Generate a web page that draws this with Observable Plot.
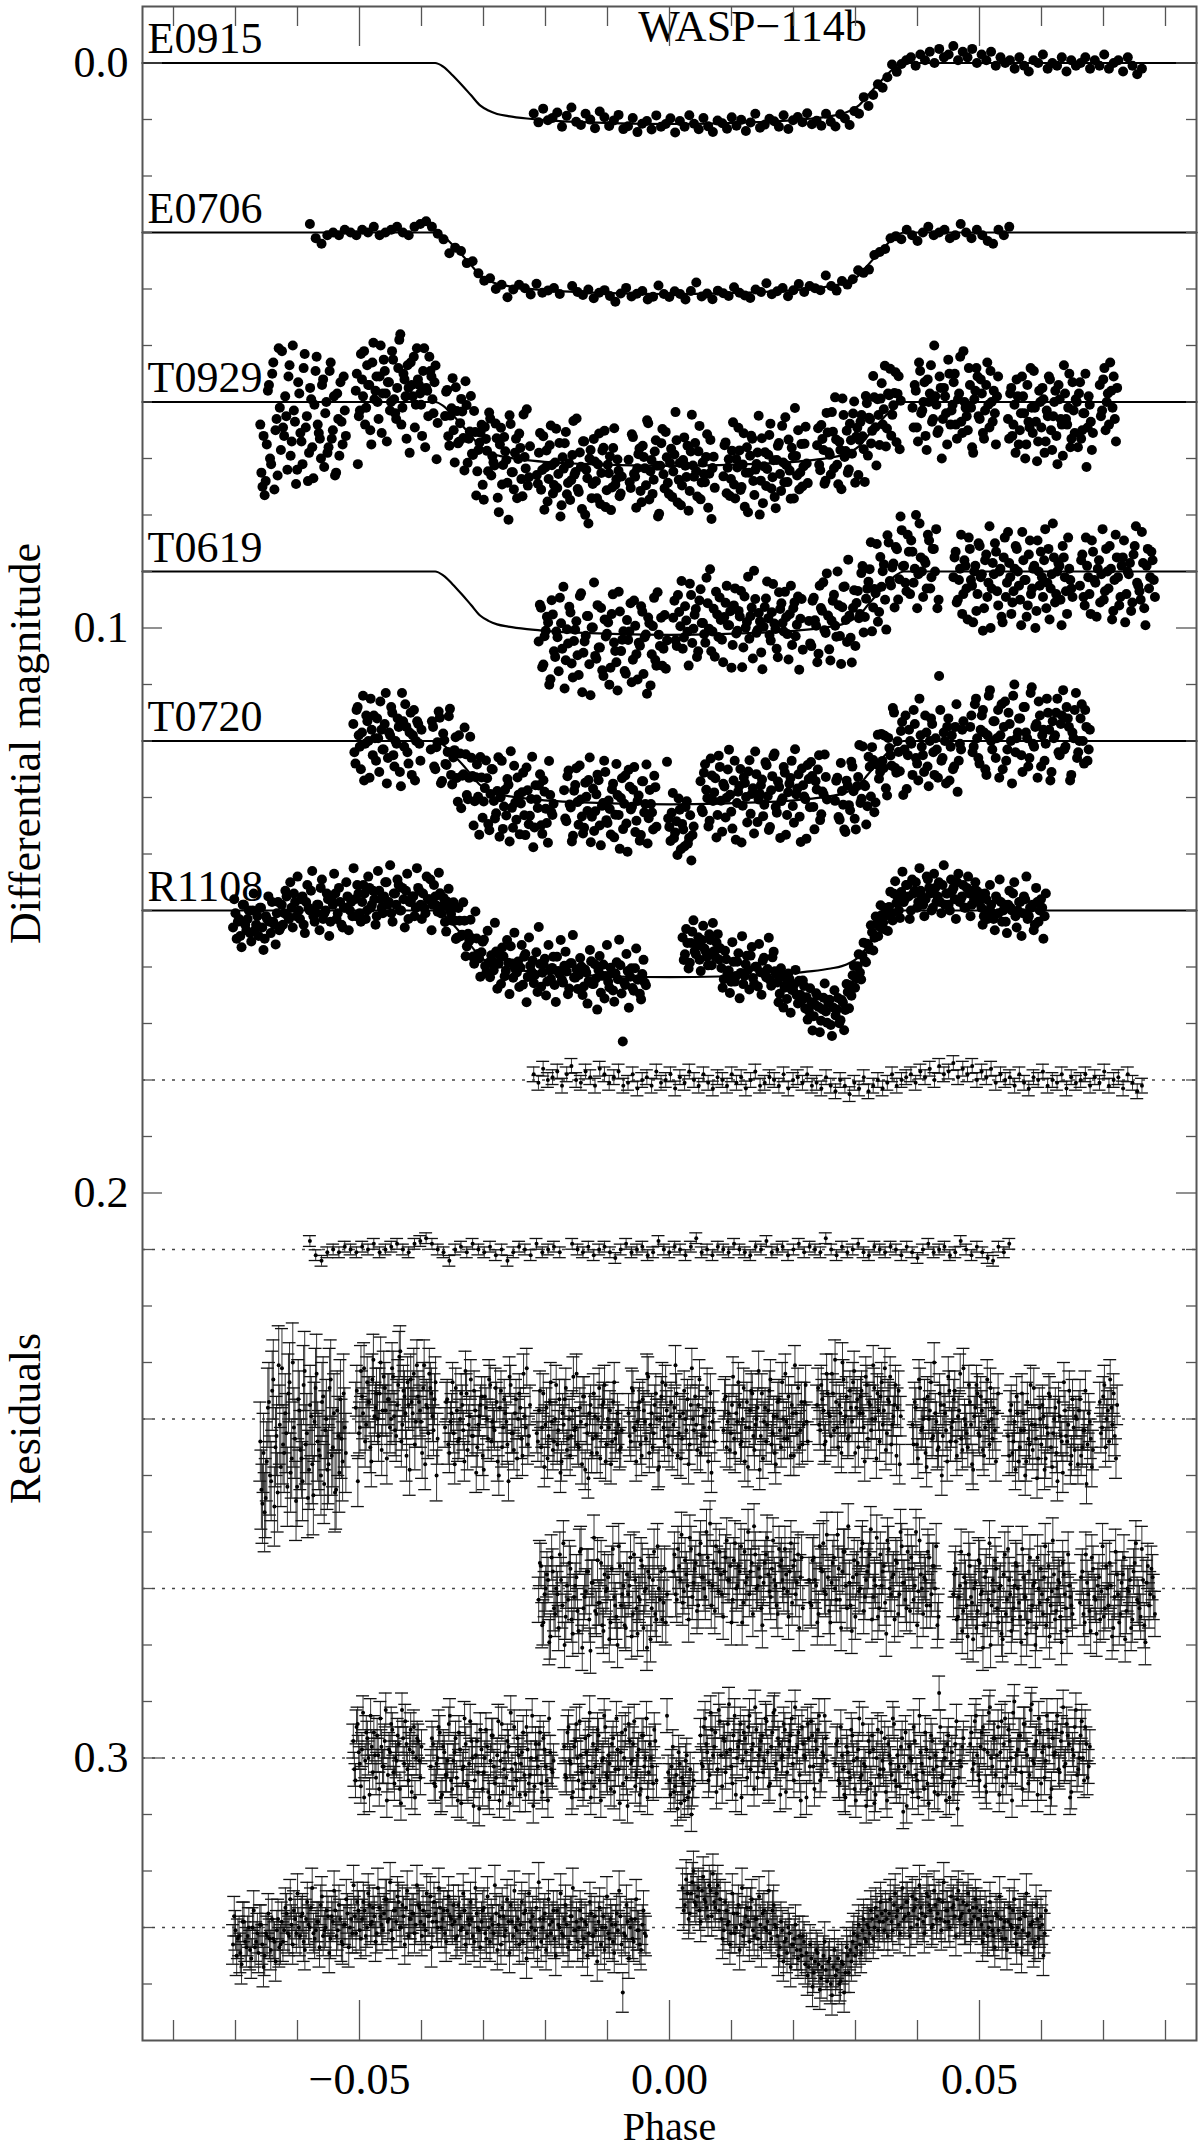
<!DOCTYPE html>
<html>
<head>
<meta charset="utf-8">
<script src="https://cdn.jsdelivr.net/npm/d3@7"></script>
<script src="https://cdn.jsdelivr.net/npm/@observablehq/plot@0.6"></script>
<style>
  html, body { margin: 0; padding: 0; background: white; }
  #chart svg text { font-family: 'Liberation Serif', 'Times New Roman', serif; }
</style>
</head>
<body>
<div id="chart"></div>
<script>
// ---------------- data ----------------
const title = "WASP−114b";
const phaseDomain = [-0.085, 0.085];
const magDomain = [-0.01, 0.35];
const unit = 0.0005; // residual values below are in units of 0.5 mmag

// transit model shape (fraction of depth)
const modelPhase = [-0.085, -0.0378, -0.0365, -0.035, -0.0335, -0.032, -0.0305, -0.0292, -0.0278, -0.026, -0.023, -0.019, -0.014, -0.008, 0,
                    0.008, 0.014, 0.019, 0.023, 0.026, 0.0278, 0.0292, 0.0305, 0.032, 0.0335, 0.035, 0.0365, 0.0378, 0.085];
const modelShape = [0, 0, 0.06, 0.2, 0.36, 0.53, 0.7, 0.78, 0.835, 0.87, 0.91, 0.945, 0.97, 0.99, 1,
                    0.99, 0.97, 0.945, 0.91, 0.87, 0.835, 0.78, 0.7, 0.53, 0.36, 0.2, 0.06, 0, 0];

const names = ["E0915", "E0706", "T0929", "T0619", "T0720", "R1108"];
const baselines = [0.00, 0.03, 0.06, 0.09, 0.12, 0.15];
const depths = [0.0108, 0.0109, 0.0113, 0.0112, 0.0112, 0.0118];
const residLevels = [0.18, 0.21, 0.24, 0.27, 0.30, 0.33];

// E0915
const segE0915 = [[-0.0219, 0.0762]];
const errE0915 = [2.6];
const resE0915 = [[
  -2,1,-4,0,-1,-3,2,-2,-5,0,1,-3,-1,2,-4,-2,1,-1,-3,2,
  1,-2,3,0,-1,2,-3,1,0,-2,3,-1,1,-3,0,2,-2,1,3,-1,
  0,2,-2,1,-1,3,0,-3,2,1,-1,0,2,-2,3,0,-1,1,-2,2,
  1,3,-1,2,4,0,2,5,1,3,-1,4,2,0,3,1,-2,2,0,-1,
  -2,1,-3,-1,-4,0,-5,-2,-3,-6,-1,-4,-2,-5,0,-3,-1,-4,1,-2,
  0,-1,2,-2,1,3,-1,0,-3,2,0,1,-2,3,-1,1,0,-2,2,-1,
  1,-3,2,0,-1,3,-2,1,4,2]];
const resE0915b = null;

// E0706
const segE0706 = [[-0.058, -0.0177], [-0.0157, 0.0548]];
const errE0706 = [1.9, 1.9];
const resE0706 = [
  [-3,2,4,1,0,1,-1,0,1,-1,0,-2,1,0,-1,-2,0,1,-2,-3,-4,-2,0,1,4,0,-1,1,-2,0,1,-1,2,0,4,1,-1,0,2,-2,1,0,-1,1],
  [-2,0,1,-1,2,0,-1,1,3,0,-2,1,0,-1,2,1,-3,0,1,-1,0,2,-1,-4,1,0,2,-1,0,1,-2,0,1,2,-1,0,-3,1,0,-1,
   2,0,-2,1,-1,0,1,-4,0,2,-1,1,0,-2,1,2,-1,0,1,-1,0,2,-1,1,3,0,-2,1,0,-1,2,1,-3,0,2,-1,1,3,4,-1,1,-2]];
const resE0706b = null;

// T0929 (two interleaved runs of exposures per segment)
const segT0929 = [[-0.066,-0.0522],[-0.0506,-0.0374],[-0.0362,-0.0225],[-0.0214,-0.0077],[-0.0066,0.0073],
                  [0.0087,0.0223],[0.0238,0.0373],[0.0392,0.053],[0.0546,0.0683],[0.0694,0.0722]];
const errT0929 = [14, 9, 7, 7, 7, 7, 7, 7, 7, 7];
const resT0929 = [
  [8,30,33,15,-6,22,-14,10,26,2,-18,12,5,-9,19,-20,7,24,-3,14,-12,9,28,-5,16,1,-16,11,20,-8,4,18,-11,13,-2,25,6,-7,15,3],
  [-4,22,3,-8,-18,2,-6,10,-14,-1,-9,6,-20,-3,-11,14,-7,0,-15,4,-5,-22,8,-10,-2,-13,18,-6,-16,1,-8,-3,12,-19,-5,5,-11,-1,-7,20],
  [3,-7,12,-2,5,-11,8,0,-5,15,-9,2,-14,6,-3,10,-1,-8,18,-4,7,-12,1,4,-6,20,-10,3,-2,9,-15,5,11,-7,0,-4,13,-1,-18,6],
  [5,-3,10,-9,2,14,-6,1,8,-12,4,19,-2,-7,11,0,6,-15,3,9,-4,16,-8,2,21,-5,7,-1,12,-11,3,-6,15,0,-3,8,-13,5,2,10],
  [-2,8,-10,4,1,-6,13,-3,7,-15,2,10,-5,0,17,-8,3,-12,6,-1,11,-4,-9,5,14,-2,0,-7,9,-18,4,2,-5,12,-1,6,-11,3,19,-3],
  [4,-8,1,11,-5,7,-2,-13,9,0,15,-6,3,-10,6,2,-4,18,-9,1,8,-3,-14,5,12,-1,-7,10,0,-16,7,3,-5,13,-2,-11,4,9,-6,1],
  [-5,2,-12,-3,8,-9,-1,-16,4,-6,10,-2,-20,1,-8,6,-4,-13,12,-7,-2,-10,3,-15,7,-5,0,-11,14,-3,-8,2,-18,5,-6,9,-1,-12,-4,16],
  [2,-6,9,-14,4,0,12,-8,-3,7,-20,1,10,-5,6,-2,15,-10,3,-7,8,-1,-16,11,0,5,-12,2,18,-4,-9,6,-3,13,-6,1,-11,7,4,-2],
  [6,-3,12,1,-8,15,4,-2,20,-6,9,2,-11,7,14,0,-5,18,3,-9,10,5,-4,22,-1,8,-13,6,2,16,-7,11,0,-3,13,4,-10,9,1,17],
  [-6,3,-12,0,8,-4,-9,14]];
const resT0929b = [
  [25,12,28,-4,20,-10,31,6,-19,17,9,-2,24,-13,14,3,29,-7,11,22,-17,5,18,-1,27,-11,8,13,-6,23,0,16,-14,10,26,-3,19,7,-9,12],
  [-10,5,-17,-2,8,-13,-6,15,-21,-4,0,-9,11,-15,-3,-7,3,-18,-1,6,-12,-24,2,-8,13,-5,-14,-2,9,-19,-6,1,-11,16,-4,-16,-9,4,-13,7],
  [-6,9,1,-13,16,-3,7,-9,4,-17,11,-1,6,-10,19,2,-5,13,-8,0,-14,8,3,-11,15,-4,10,-7,1,22,-12,5,-2,14,-9,7,-16,3,9,-5],
  [8,-10,3,17,-4,6,-13,11,0,9,-7,15,2,-11,7,13,-3,4,-16,10,1,-8,18,5,-2,12,-9,6,0,14,-5,-12,9,3,16,-6,7,-2,11,4],
  [6,-11,3,15,-4,9,-7,1,-16,12,-2,5,-9,18,0,-13,8,-3,10,-6,2,-19,13,-1,7,-10,4,16,-5,0,-8,11,-14,6,3,-3,15,-9,1,8],
  [-7,10,-2,5,-15,12,1,-5,8,-11,3,17,-3,-9,11,0,-17,6,14,-4,2,-10,9,-1,16,-6,4,-13,7,1,-8,13,-2,-19,5,10,-6,2,-12,8],
  [-11,4,-7,9,-16,-2,6,-9,-21,3,-5,12,-14,-1,7,-10,1,-17,-4,10,-8,-2,15,-12,-6,4,-19,0,-9,8,-13,-3,11,-7,-15,2,-5,13,-10,-1],
  [9,-4,14,-11,3,-7,17,0,-13,6,-2,11,-9,20,-5,4,-15,8,1,-10,13,-3,7,-18,2,10,-6,16,-1,-12,5,-8,11,3,-14,9,0,-4,15,-9],
  [13,-5,8,18,-2,10,-9,4,15,7,-12,11,2,21,-4,9,-1,14,5,-8,17,0,12,-6,6,19,-3,8,-10,13,3,-1,16,-7,10,4,23,-2,7,11],
  [5,-8,10,-3,-14,2,6,-5]];

// T0619
const segT0619 = [[-0.0211,-0.0004],[0.0006,0.0215],[0.0225,0.0434],[0.0458,0.065],[0.0662,0.0783]];
const errT0619 = [8, 8, 8, 8, 8];
const resT0619 = [
  [4,-8,12,0,-3,17,-6,9,2,-12,6,20,-1,-9,11,3,-4,15,-14,7,1,-6,22,-2,8,-10,5,13,-5,0,18,-7,3,10,-15,6,-1,14,2,-11,9,-3,16,4,-8,1,21,-4,7,-13,11,0,-6,5,12],
  [-6,2,-14,-3,5,-10,-1,-18,3,-7,8,-12,-4,0,-20,-2,6,-9,-15,1,-5,10,-11,-3,-8,4,-16,-1,-6,12,-13,-4,2,-9,-22,0,-7,7,-2,-12,-5,3,-17,-1,9,-8,-3,-14,1,-6,5,-10,-2,14,-11],
  [-3,6,-11,-1,9,-7,-16,2,-4,12,-9,0,-19,4,-6,-13,7,-2,15,-10,-5,1,-14,8,-3,-8,-21,3,-1,10,-12,-6,5,-17,0,-4,11,-9,2,-15,-2,7,-7,-11,4,-20,1,-5,9,-3,-13,6,-8,0,13],
  [2,-7,10,-1,15,-4,6,-12,3,18,-2,8,-9,1,13,-6,4,20,-3,-10,7,0,16,-5,9,-14,2,11,-1,-8,5,19,-4,3,12,-11,6,-2,14,0,-7,9,-15,4,17,1,-5,8,-3,10,-9,2,15,-1,6],
  [5,-6,12,-2,8,-11,3,16,-4,1,10,-8,6,-1,14,-13,2,9,-5,18,0,-3,11,-9,4,7,-14,13,-2,6,-7,3]];
const resT0619b = [
  [-9,13,2,-5,19,-11,7,0,14,-3,-16,10,4,-7,16,-1,8,-13,21,3,-6,11,-2,-18,9,5,-9,15,1,-4,12,-14,6,20,-8,2,13,-5,-1,17,-12,7,3,-10,14,0,-6,18,-3,9,-15,4,11,-7,2],
  [-12,4,-8,-19,1,-5,11,-14,-2,-9,6,-16,-4,3,-11,-23,-1,8,-7,-13,2,-6,-17,-3,12,-10,0,-8,-15,5,-2,-20,-6,9,-12,-1,-4,13,-9,-18,1,-7,-3,6,-14,-10,0,-5,10,-16,-8,2,-12,-4,7],
  [5,-10,-3,12,-15,-6,1,-19,8,-2,-11,4,-7,14,-13,-1,-22,6,-4,10,-9,0,-16,3,-6,-12,11,-3,-18,7,-1,-8,16,-14,2,-5,-10,9,-20,-2,4,-13,8,-7,-1,13,-17,0,-4,6,-11,2,-8,-15,10],
  [-5,11,3,-13,8,-2,17,-8,5,0,14,-10,2,21,-4,9,-16,6,1,-7,12,-1,18,-12,4,-3,15,7,-9,0,10,-14,3,16,-6,8,-1,20,-11,5,2,-4,13,-8,6,-17,11,0,-2,19,-5,7,-12,3,9],
  [-4,9,-12,2,15,-7,4,-1,11,-15,7,0,-9,17,3,-5,12,-2,-11,8,1,14,-6,-16,5,10,-3,19,-8,2,-4,9]];

// T0720
const segT0720 = [[-0.051,-0.040],[-0.0385,-0.0187],[-0.017,-0.0021],[-0.0004,0.0039],[0.005,0.0254],[0.0267,0.0474],[0.0485,0.0678]];
const errT0720 = [6, 6, 6, 6, 6, 6, 6];
const resT0720 = [
  [-6,8,-12,2,-3,14,-9,0,-15,5,-1,-8,11,-4,3,-17,6,-2,-10,9,1,-5,16,-7,-13,4,-3,12,-11,0,-6,7],
  [3,-5,10,0,-9,13,-2,6,-12,8,1,-7,15,-3,4,-14,9,2,-6,17,-1,5,-10,11,0,-4,14,-8,3,7,-13,1,12,-2,-6,16,4,-11,8,-1,2,-9,13,-3,6,-15,10,0,-5,9,-7,3,15,-2,5],
  [-4,7,-11,2,12,-6,0,-13,5,9,-2,-8,14,-5,3,-10,8,1,-15,6,-1,11,-7,4,-3,16,-9,0,7,-12,2,-5,10,-1,13,-8,3,-14,5,0,9,-6],
  [-15,8,3,12,6,-2,16,9,1,14,4,11],
  [-8,3,-14,-2,6,-10,-4,12,-17,-1,-7,5,-12,-3,9,-15,0,-6,14,-9,-2,-11,4,-5,-18,7,-3,-8,1,-13,10,-4,-16,2,-7,13,-1,-10,5,-6,-14,8,-2,-9,15,-5,0,-12,3,-8,11,-3,-15,6,-1,-7],
  [2,-6,9,-1,13,-4,5,-10,1,15,-3,7,-12,3,11,-2,-8,16,0,6,-9,4,12,-5,2,-14,8,-1,10,-7,3,17,-4,1,-11,6,14,-2,5,-9,9,0,-6,12,3,-23,7,-3,15,-8,2,10,-5,18,1,-4],
  [-5,4,-13,-1,8,-9,-3,12,-16,0,-7,6,-11,-2,10,-14,3,-6,15,-20,-1,-8,5,-12,-3,9,-17,1,-5,13,-9,-2,7,-15,-4,11,-1,-10,4,-6,-18,2,-8,14,-3,-11,6,0,-13,8,-5,3]];
const resT0720b = [
  [4,-11,-2,10,-16,1,-7,13,-4,-9,7,-1,-14,3,-6,15,-3,-12,5,0,-8,11,-17,2,-5,8,-10,-2,14,-7,1,-4],
  [-7,9,2,-11,14,-4,6,1,-15,11,-2,7,-9,16,3,-5,10,-13,0,8,-6,18,-3,5,-10,12,1,-8,9,-1,15,-12,4,7,-4,-16,11,2,-7,13,-2,6,-11,9,0,17,-5,3,-9,12,-3,8,-14,4,1],
  [6,-9,1,14,-4,-12,8,-1,11,-7,3,-16,5,10,-3,-8,15,0,-11,7,2,-5,12,-14,4,-2,9,-10,17,-6,1,-13,6,-3,11,-8,0,14,-5,3,-10,8],
  [5,13,-4,10,18,2,7,15,-1,12,20,8],
  [2,-11,-5,8,-16,-1,-9,4,-13,10,-6,-2,-19,3,-8,13,-4,-12,1,-7,7,-15,-3,11,-10,-1,-6,5,-14,-2,9,-9,-17,4,-5,0,-12,12,-3,-8,2,-18,-4,6,-11,-1,14,-7,-13,3,-6,-10,8,-2,-15,1],
  [-5,8,-11,4,14,-2,7,-8,11,0,-14,6,2,17,-6,9,-3,13,-10,4,1,-7,15,-1,6,-12,10,3,-4,19,-9,5,0,12,-6,8,-15,2,11,-3,16,-8,4,-1,13,-11,6,0,-5,14,-2,9,-13,7,3,-7],
  [-9,2,-15,6,-4,-11,10,-2,-18,3,-7,-1,13,-13,-5,7,-10,0,-16,4,-3,-8,11,-12,-1,6,-19,2,-6,-14,9,-4,1,-10,14,-7,-2,-15,5,-9,3,-12,-5,12,-1,-17,4,-8,0,-11,7,-4]];

// R1108
const segR1108 = [[-0.0704,-0.0038],[0.0021,0.0607]];
const errR1108 = [7, 7];
const resR1108 = [
  [6,1,4,9,-2,5,3,8,0,7,2,-1,6,10,3,4,-3,5,1,7,
   -2,1,-5,3,-1,-6,2,0,-4,5,-3,-1,-7,2,1,-2,-8,3,0,-4,4,-2,-6,1,-3,6,-1,-5,0,2,-4,-9,1,
   -3,-6,0,-8,-2,-4,2,-7,-1,-5,-10,-3,1,-6,-2,-9,0,-4,-7,3,-3,-5,-1,-8,-2,-6,1,-4,-11,-2,-5,0,-7,-3,2,-6,-4,-1,
   -2,3,-4,0,-6,2,-1,-3,5,-5,1,-2,-7,4,0,-3,2,-5,-1,6,-4,1,-2,-8,3,0,-3,-1,5,-6,2,-2,-4,1,7,-3,0,-5,3,-1,-2,4,-6,0,2,-3,-1,5,-4,1,-2,
   0,-3,4,-1,2,-5,3,1,-2,6,-4,0,2,-3,5,-1,1,-4,23,3,-2,0,4,-3,1,6,-1,2],
  [-14,-8,-12,-5,-16,-9,-11,-6,-13,-10,-7,-15,-4,-9,-12,-6,
   -3,1,-6,-2,2,-5,0,-8,-1,3,-4,-2,-7,1,-3,4,-1,-5,0,-2,2,-6,-1,
   3,7,1,5,9,2,6,4,8,3,10,5,
   9,14,11,16,8,13,18,10,15,12,20,14,17,11,19,13,16,10,
   8,5,10,3,6,1,4,-1,2,-3,0,-4,-2,-5,1,-3,
   -5,-2,-8,-4,-1,-7,-3,-9,-5,0,-6,-10,-3,-7,-2,-4,-11,-6,-1,-8,-5,-3,-9,-2,-6,0,-7,-4,-10,-3,-5,-1,-8,-6,-2,-4,-7,-3,
   -1,2,-4,0,-2,3,-5,1,-3,0,4,-2,-1,-6,2,0,-3,1,-4,3,-1,-2,5,-3,0,-1,2]];
const resR1108b = [
  [-4,10,3,13,-2,7,0,11,-6,5,9,-1,14,2,-5,8,4,12,-3,6,
   5,-7,2,-10,6,-3,-12,3,-5,8,-9,0,-14,4,-2,7,-11,1,-6,9,-4,-13,3,-8,5,-1,-10,7,-3,-15,2,-6,4,
   -9,3,-12,-1,-7,5,-14,-4,1,-10,-2,-16,4,-6,-11,0,-8,6,-13,-3,-5,2,-15,-7,3,-1,-12,-4,7,-9,-2,-14,0,-6,5,-11,-3,-8,
   4,-8,1,-12,6,-3,-9,3,-14,0,7,-6,2,-11,5,-1,-15,8,-4,-7,3,-10,9,-2,-13,1,6,-9,-5,11,-12,0,4,-7,-16,5,-3,8,-10,2,-6,10,-1,-12,3,-8,7,-4,-14,1,5,
   -6,7,-2,10,-9,3,-4,12,-7,0,8,-11,4,-1,9,-5,-13,6,2,-8,11,-3,5,-10,1,8,-6,3],
  [-6,-17,-3,-12,-20,-8,-14,-2,-18,-9,-4,-13,-19,-7,-15,-10,
   4,-9,-1,6,-12,2,-5,8,-14,0,-7,5,-10,3,-3,-11,7,-6,1,-13,4,-8,0,
   10,-2,12,4,0,14,6,-1,11,8,3,13,
   17,6,21,12,9,22,14,5,19,11,24,8,15,20,12,23,7,16,
   12,2,7,-1,9,-3,5,0,-6,4,-7,1,-9,-2,-6,3,
   -10,1,-12,-6,2,-14,-4,-9,3,-11,-7,-1,-15,-5,2,-12,-8,0,-13,-3,-10,1,-16,-6,-2,-11,-8,3,-13,-4,-9,-1,-12,2,-7,-10,-3,-6,
   5,-6,3,-9,1,7,-4,-11,4,-2,8,-7,0,-10,6,-3,9,-5,-12,2,-1,7,-8,4,-4,10,-6]];

// axis ticks
const majorX = [-0.05, 0, 0.05];
const minorX = [-0.08,-0.07,-0.06,-0.04,-0.03,-0.02,-0.01,0.01,0.02,0.03,0.04,0.06,0.07,0.08];
const majorY = [0, 0.1, 0.2, 0.3];
const minorY = [0.01,0.02,0.03,0.04,0.05,0.06,0.07,0.08,0.09,0.11,0.12,0.13,0.14,0.15,0.16,0.17,0.18,0.19,
                0.21,0.22,0.23,0.24,0.25,0.26,0.27,0.28,0.29,0.31,0.32,0.33,0.34];

// ---------------- build ----------------
const segs = [segE0915, segE0706, segT0929, segT0619, segT0720, segR1108];
const errs = [errE0915, errE0706, errT0929, errT0619, errT0720, errR1108];
const ress = [resE0915, resE0706, resT0929, resT0619, resT0720, resR1108];
const ressB = [resE0915b, resE0706b, resT0929b, resT0619b, resT0720b, resR1108b];

const shape = d3.scaleLinear().domain(modelPhase).range(modelShape);

const points = [];
names.forEach((name, k) => {
  segs[k].forEach((s, j) => {
    const a = ress[k][j];
    const b = ressB[k] ? ressB[k][j] : null;
    const r = b ? a.flatMap((v, i) => (b[i] !== undefined ? [v, b[i]] : [v])) : a;
    const n = r.length;
    r.forEach((v, i) => {
      const phase = s[0] + (n > 1 ? i * (s[1] - s[0]) / (n - 1) : 0);
      const model = baselines[k] + depths[k] * shape(phase);
      points.push({
        set: name,
        phase,
        mag: model + v * unit,
        res: residLevels[k] + v * unit,
        err: errs[k][j] * unit
      });
    });
  });
});

const modelRows = [];
names.forEach((name, k) => {
  modelPhase.forEach((p, i) => modelRows.push({set: name, phase: p, mag: baselines[k] + depths[k] * modelShape[i]}));
});

// ---------------- layout ----------------
const W = 1200, H = 2148;
const mL = 142, mR = 4, mT = 6, mB = 108;
const fw = W - mL - mR;
const fh = H - mT - mB;
const capHalf = 6.5 / (fw / (phaseDomain[1] - phaseDomain[0]));
const midY = mT + fh / 2;
const tickColor = "#555";
const serif = "'Liberation Serif', 'Times New Roman', serif";

const chart = Plot.plot({
  width: W,
  height: H,
  marginLeft: mL,
  marginRight: mR,
  marginTop: mT,
  marginBottom: mB,
  x: {domain: phaseDomain},
  y: {domain: magDomain, reverse: true},
  style: `font-family: ${serif}; font-size: 44px; background: white; color: black;`,
  marks: [
    Plot.ruleY(residLevels, {stroke: "#444", strokeWidth: 1.5, strokeDasharray: "3,7"}),
    Plot.line(modelRows, {x: "phase", y: "mag", z: "set", stroke: "black", strokeWidth: 2.2, curve: "monotone-x"}),
    Plot.dot(points, {x: "phase", y: "mag", r: 5, fill: "black"}),
    Plot.ruleX(points, {x: "phase", y1: d => d.res - d.err, y2: d => d.res + d.err, stroke: "#333", strokeWidth: 1}),
    Plot.ruleY(points, {y: d => d.res - d.err, x1: d => d.phase - capHalf, x2: d => d.phase + capHalf, stroke: "#111", strokeWidth: 1.3}),
    Plot.ruleY(points, {y: d => d.res + d.err, x1: d => d.phase - capHalf, x2: d => d.phase + capHalf, stroke: "#111", strokeWidth: 1.3}),
    Plot.dot(points, {x: "phase", y: "res", r: 2, fill: "black"}),
    Plot.text(names, {y: (d, i) => baselines[i], frameAnchor: "left", dx: 5, dy: -10, textAnchor: "start", lineAnchor: "bottom", fontSize: 44, fontFamily: serif, fill: "black"}),
    Plot.text([title], {frameAnchor: "top", dx: 83, dy: 34, textAnchor: "middle", lineAnchor: "bottom", fontSize: 44, fontFamily: serif, fill: "black"}),
    Plot.text(["Differential magnitude"], {frameAnchor: "left", dx: -103, dy: 743 - midY, rotate: -90, textAnchor: "middle", lineAnchor: "bottom", fontSize: 44, fontFamily: serif, fill: "black"}),
    Plot.text(["Residuals"], {frameAnchor: "left", dx: -103, dy: 1418 - midY, rotate: -90, textAnchor: "middle", lineAnchor: "bottom", fontSize: 44, fontFamily: serif, fill: "black"}),
    Plot.text(["Phase"], {frameAnchor: "bottom", dy: 99, textAnchor: "middle", lineAnchor: "bottom", fontSize: 40, fontFamily: serif, fill: "black"}),
    Plot.axisX(majorX, {anchor: "bottom", tickSize: 0, tickPadding: 22, tickFormat: d3.format(".2f"), fontSize: 44, fontFamily: serif, label: null}),
    Plot.axisY(majorY, {anchor: "left", tickSize: 0, tickPadding: 14, tickFormat: d3.format(".1f"), fontSize: 44, fontFamily: serif, label: null}),
    // frame ticks (inward)
    Plot.ruleX(minorX, {insetTop: fh - 20, stroke: tickColor, strokeWidth: 1.3}),
    Plot.ruleX(minorX, {insetBottom: fh - 20, stroke: tickColor, strokeWidth: 1.3}),
    Plot.ruleX(majorX, {insetTop: fh - 40, stroke: tickColor, strokeWidth: 1.3}),
    Plot.ruleX(majorX, {insetBottom: fh - 40, stroke: tickColor, strokeWidth: 1.3}),
    Plot.ruleY(minorY, {insetRight: fw - 10, stroke: tickColor, strokeWidth: 1.3}),
    Plot.ruleY(minorY, {insetLeft: fw - 10, stroke: tickColor, strokeWidth: 1.3}),
    Plot.ruleY(majorY, {insetRight: fw - 20, stroke: tickColor, strokeWidth: 1.3}),
    Plot.ruleY(majorY, {insetLeft: fw - 20, stroke: tickColor, strokeWidth: 1.3}),
    Plot.frame({stroke: "#555", strokeWidth: 2})
  ]
});

document.getElementById("chart").appendChild(chart);
</script>
</body>
</html>
